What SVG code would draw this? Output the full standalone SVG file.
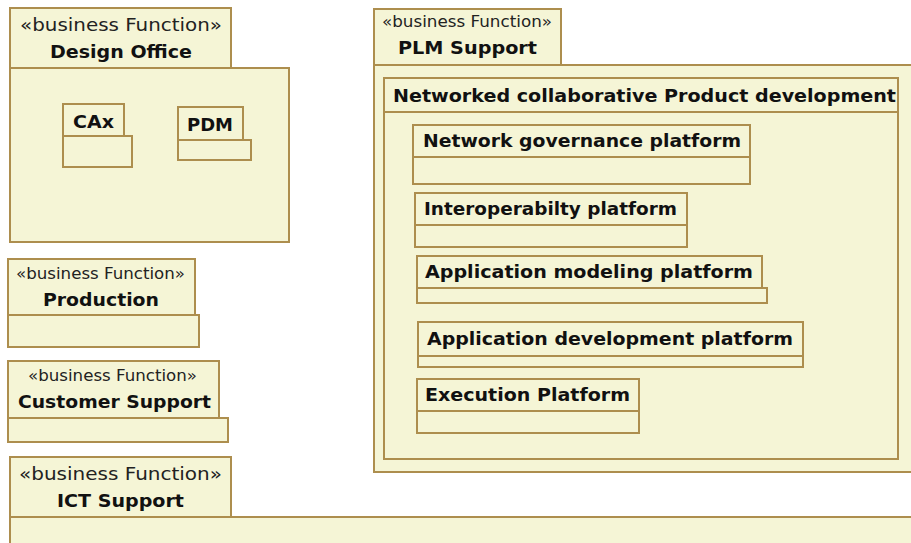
<svg xmlns="http://www.w3.org/2000/svg" width="911" height="543" viewBox="0 0 911 543">
<style>
.b{fill:#F5F5D6;stroke:#AD8E4E;stroke-width:2}
.st{font-family:"DejaVu Sans",Verdana,sans-serif;font-size:17px;fill:#222}
.st2{font-family:"DejaVu Sans",Verdana,sans-serif;font-size:15px;fill:#222}
.n{font-family:"DejaVu Sans",Verdana,sans-serif;font-size:18px;font-weight:bold;fill:#111}
</style>
<rect width="911" height="543" fill="#fff"/>
<g id="design-office">
<rect class="b" x="10" y="8" width="221" height="60"/>
<rect class="b" x="10" y="68" width="279" height="174"/>
<text class="st" x="20" y="31" textLength="202" lengthAdjust="spacingAndGlyphs">«business Function»</text>
<text class="n" x="50" y="58" textLength="142" lengthAdjust="spacingAndGlyphs">Design Office</text>
</g>
<g id="cax">
<rect class="b" x="63" y="104" width="61" height="32"/>
<rect class="b" x="63" y="136" width="69" height="31"/>
<text class="n" x="73" y="128" textLength="41" lengthAdjust="spacingAndGlyphs">CAx</text>
</g>
<g id="pdm">
<rect class="b" x="178" y="107" width="65" height="33"/>
<rect class="b" x="178" y="140" width="73" height="20"/>
<text class="n" x="187" y="131" textLength="46" lengthAdjust="spacingAndGlyphs">PDM</text>
</g>
<g id="production">
<rect class="b" x="8" y="259" width="187" height="56"/>
<rect class="b" x="8" y="315" width="191" height="32"/>
<text class="st2" x="16" y="279" textLength="169" lengthAdjust="spacingAndGlyphs">«business Function»</text>
<text class="n" x="43" y="306" textLength="116" lengthAdjust="spacingAndGlyphs">Production</text>
</g>
<g id="customer-support">
<rect class="b" x="8" y="361" width="211" height="57"/>
<rect class="b" x="8" y="418" width="220" height="24"/>
<text class="st2" x="28" y="381" textLength="169" lengthAdjust="spacingAndGlyphs">«business Function»</text>
<text class="n" x="18" y="408" textLength="193" lengthAdjust="spacingAndGlyphs">Customer Support</text>
</g>
<g id="ict-support">
<rect class="b" x="10" y="457" width="221" height="60"/>
<rect class="b" x="10" y="517" width="920" height="60"/>
<text class="st" x="19" y="480" textLength="203" lengthAdjust="spacingAndGlyphs">«business Function»</text>
<text class="n" x="57" y="507" textLength="127" lengthAdjust="spacingAndGlyphs">ICT Support</text>
</g>
<g id="plm-support">
<rect class="b" x="374" y="9" width="187" height="56"/>
<rect class="b" x="374" y="65" width="560" height="407"/>
<text class="st2" x="382" y="27" textLength="170" lengthAdjust="spacingAndGlyphs">«business Function»</text>
<text class="n" x="398" y="54" textLength="139" lengthAdjust="spacingAndGlyphs">PLM Support</text>
</g>
<g id="networked-collaborative-product-development">
<rect class="b" x="384" y="78" width="514" height="34"/>
<rect class="b" x="384" y="112" width="514" height="347"/>
<text class="n" x="393" y="102" textLength="503" lengthAdjust="spacingAndGlyphs">Networked collaborative Product development</text>
</g>
<g id="network-governance-platform">
<rect class="b" x="413" y="125" width="337" height="32"/>
<rect class="b" x="413" y="157" width="337" height="27"/>
<text class="n" x="423" y="147" textLength="318" lengthAdjust="spacingAndGlyphs">Network governance platform</text>
</g>
<g id="interoperabilty-platform">
<rect class="b" x="415" y="193" width="272" height="32"/>
<rect class="b" x="415" y="225" width="272" height="22"/>
<text class="n" x="424" y="215" textLength="253" lengthAdjust="spacingAndGlyphs">Interoperabilty platform</text>
</g>
<g id="application-modeling-platform">
<rect class="b" x="417" y="256" width="345" height="32"/>
<rect class="b" x="417" y="288" width="350" height="15"/>
<text class="n" x="425" y="278" textLength="328" lengthAdjust="spacingAndGlyphs">Application modeling platform</text>
</g>
<g id="application-development-platform">
<rect class="b" x="418" y="322" width="385" height="34"/>
<rect class="b" x="418" y="356" width="385" height="11"/>
<text class="n" x="427" y="345" textLength="366" lengthAdjust="spacingAndGlyphs">Application development platform</text>
</g>
<g id="execution-platform">
<rect class="b" x="417" y="379" width="222" height="32"/>
<rect class="b" x="417" y="411" width="222" height="22"/>
<text class="n" x="425" y="401" textLength="205" lengthAdjust="spacingAndGlyphs">Execution Platform</text>
</g>
<g id="connectors"></g>
</svg>
